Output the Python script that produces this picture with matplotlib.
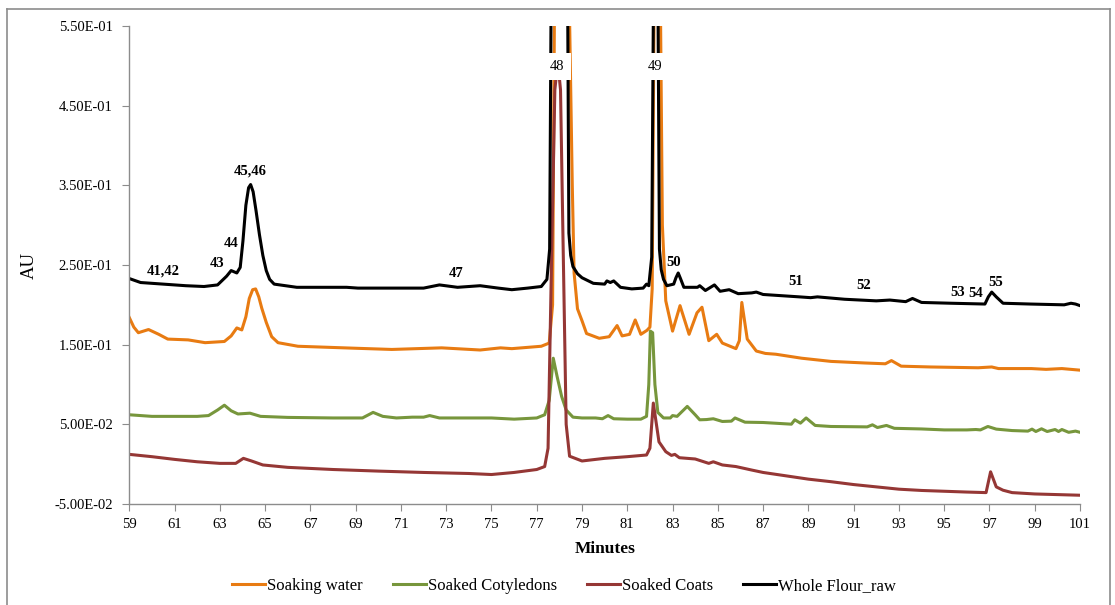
import matplotlib
matplotlib.use("Agg")
import matplotlib.pyplot as plt
from matplotlib.lines import Line2D
from matplotlib.ticker import FormatStrFormatter

plt.rcParams['font.family'] = ['Liberation Serif', 'DejaVu Serif']

# --- data (minutes, AU) ---
flour_t = [59.0, 59.5, 60.5, 61.5, 62.3, 62.9, 63.3, 63.5, 63.75, 63.9, 64.02, 64.15, 64.27,
           64.36, 64.47, 64.6, 64.75, 64.9, 65.05, 65.2, 65.4, 66.4, 68.6, 69.1, 70.5, 72.0,
           72.7, 73.5, 74.5, 75.3, 75.9, 76.6, 77.2, 77.45, 77.57, 77.63, 77.9, 78.2, 78.37,
           78.42, 78.5, 78.6, 78.8, 79.0, 79.5, 80.0, 80.1, 80.25, 80.4, 80.7, 81.2, 81.7,
           81.85, 81.95, 82.08, 82.15, 82.25, 82.36, 82.42, 82.5, 82.6, 82.75, 83.05, 83.15,
           83.25, 83.35, 83.5, 84.1, 84.2, 84.45, 84.85, 85.1, 85.5, 85.9, 86.5, 86.7, 87.0,
           87.8, 88.6, 89.1, 89.4, 90.6, 92.0, 92.6, 93.3, 93.6, 94.0, 95.3, 96.8, 96.95, 97.1,
           97.3, 97.6, 98.8, 100.3, 100.6, 100.8, 101.0]
flour_au = [0.233, 0.228, 0.226, 0.224, 0.223, 0.225, 0.236, 0.243, 0.240, 0.247, 0.280, 0.325,
            0.347, 0.351, 0.342, 0.318, 0.288, 0.262, 0.243, 0.232, 0.226, 0.222, 0.222, 0.221,
            0.221, 0.221, 0.225, 0.222, 0.224, 0.221, 0.219, 0.221, 0.223, 0.232, 0.270, 0.560,
            0.950, 0.950, 0.560, 0.290, 0.262, 0.248, 0.239, 0.234, 0.227, 0.226, 0.230, 0.228,
            0.230, 0.222, 0.220, 0.221, 0.226, 0.224, 0.260, 0.560, 0.900, 0.560, 0.270, 0.244,
            0.232, 0.224, 0.226, 0.234, 0.240, 0.233, 0.222, 0.222, 0.224, 0.218, 0.225, 0.217,
            0.219, 0.214, 0.215, 0.216, 0.213, 0.2115, 0.210, 0.209, 0.210, 0.207, 0.205, 0.206,
            0.204, 0.208, 0.203, 0.202, 0.201, 0.210, 0.216, 0.210, 0.202, 0.201, 0.200, 0.202,
            0.201, 0.199]

water_t = [59.0, 59.2, 59.4, 59.85, 60.3, 60.7, 61.6, 62.35, 63.2, 63.5, 63.75, 63.97, 64.15,
           64.3, 64.45, 64.58, 64.72, 64.85, 65.05, 65.29, 65.57, 66.45, 69.1, 70.6, 72.8, 74.5,
           75.4, 75.9, 77.2, 77.55, 77.7, 77.78, 78.1, 78.45, 78.57, 78.65, 78.8, 79.0, 79.2,
           79.76, 80.2, 80.55, 80.77, 81.1, 81.35, 81.6, 81.87, 82.0, 82.1, 82.18, 82.3, 82.47,
           82.55, 82.7, 83.0, 83.33, 83.73, 84.08, 84.3, 84.6, 84.95, 85.2, 85.8, 85.95, 86.06,
           86.3, 86.7, 87.1, 87.56, 88.7, 90.0, 91.5, 92.4, 92.67, 93.1, 94.4, 96.5, 97.1, 97.4,
           98.85, 99.5, 100.2, 101.0]
water_au = [0.184, 0.172, 0.165, 0.169, 0.163, 0.157, 0.156, 0.1525, 0.154, 0.161, 0.171,
            0.1685, 0.185, 0.208, 0.219, 0.220, 0.210, 0.196, 0.178, 0.160, 0.1525, 0.148,
            0.1454, 0.144, 0.146, 0.1433, 0.146, 0.145, 0.148, 0.152, 0.200, 0.560, 1.000,
            0.560, 0.350, 0.240, 0.195, 0.180, 0.164, 0.158, 0.160, 0.174, 0.161, 0.163, 0.181,
            0.163, 0.168, 0.172, 0.220, 0.560, 0.900, 0.560, 0.300, 0.205, 0.167, 0.199, 0.163,
            0.190, 0.197, 0.155, 0.163, 0.152, 0.145, 0.155, 0.203, 0.157, 0.142, 0.139, 0.138,
            0.133, 0.129, 0.127, 0.126, 0.130, 0.123, 0.122, 0.121, 0.122, 0.120, 0.120, 0.119,
            0.120, 0.118]

cotyl_t = [59.0, 59.5, 60.0, 62.0, 62.5, 62.9, 63.2, 63.5, 63.8, 64.33, 64.8, 66.0, 68.0, 69.3,
           69.77, 70.2, 70.8, 71.5, 72.0, 72.27, 72.7, 75.0, 76.0, 77.0, 77.35, 77.55, 77.73,
           77.9, 78.1, 78.3, 78.6, 79.0, 79.6, 79.9, 80.15, 80.4, 81.0, 81.6, 81.85, 81.95,
           82.02, 82.12, 82.22, 82.35, 82.6, 82.9, 83.0, 83.2, 83.65, 84.0, 84.2, 84.5, 84.8,
           85.2, 85.6, 85.76, 86.2, 87.0, 88.25, 88.4, 88.65, 88.9, 89.3, 90.0, 91.0, 91.6,
           91.83, 92.05, 92.45, 92.8, 94.0, 95.0, 96.0, 96.4, 96.6, 96.93, 97.3, 98.0, 98.7,
           98.88, 99.05, 99.3, 99.55, 99.9, 100.05, 100.2, 100.5, 100.8, 101.0]
cotyl_au = [0.062, 0.061, 0.060, 0.060, 0.061, 0.068, 0.074, 0.067, 0.063, 0.064, 0.060, 0.0587,
            0.058, 0.058, 0.065, 0.060, 0.058, 0.059, 0.059, 0.061, 0.058, 0.058, 0.0565, 0.058,
            0.062, 0.080, 0.133, 0.110, 0.085, 0.068, 0.059, 0.058, 0.058, 0.057, 0.061, 0.057,
            0.0565, 0.0565, 0.060, 0.100, 0.167, 0.165, 0.100, 0.065, 0.058, 0.058, 0.061, 0.060,
            0.0725, 0.062, 0.0557, 0.056, 0.057, 0.0536, 0.054, 0.058, 0.0527, 0.0523, 0.0502,
            0.0557, 0.0515, 0.058, 0.0486, 0.0473, 0.047, 0.0468, 0.0494, 0.046, 0.0486, 0.045,
            0.0442, 0.043, 0.043, 0.0435, 0.043, 0.0473, 0.044, 0.0422, 0.0415, 0.044, 0.041,
            0.0444, 0.041, 0.0435, 0.041, 0.0435, 0.040, 0.0415, 0.040]

coats_t = [59.0, 60.0, 61.0, 62.0, 63.0, 63.7, 64.04, 64.4, 64.9, 66.0, 68.0, 70.0, 72.0, 74.0,
           75.0, 76.0, 77.0, 77.35, 77.5, 77.65, 77.8, 77.93, 78.05, 78.15, 78.3, 78.45, 79.0,
           80.0, 81.0, 81.85, 82.0, 82.15, 82.4, 82.7, 82.95, 83.1, 83.3, 84.0, 84.6, 84.8,
           85.2, 85.8, 86.5, 87.0, 88.0, 89.0, 90.0, 91.0, 92.0, 93.0, 94.0, 95.0, 96.0, 96.85,
           97.05, 97.3, 97.6, 98.0, 99.0, 100.0, 101.0]
coats_au = [0.0123, 0.0094, 0.006, 0.003, 0.001, 0.001, 0.0073, 0.004, -0.001, -0.004, -0.0067,
            -0.0087, -0.0104, -0.0117, -0.013, -0.0104, -0.0067, -0.003, 0.020, 0.250, 0.470,
            0.505, 0.470, 0.300, 0.050, 0.010, 0.004, 0.0073, 0.0094, 0.0115, 0.020, 0.0767,
            0.028, 0.0157, 0.011, 0.0123, 0.0081, 0.0065, 0.001, 0.003, -0.001, -0.003, -0.0074,
            -0.0104, -0.0146, -0.0188, -0.022, -0.0256, -0.0285, -0.0314, -0.033, -0.034, -0.035,
            -0.0357, -0.0096, -0.0285, -0.0327, -0.0357, -0.0374, -0.0382, -0.039]

series_names = ['Soaking water', 'Soaked Cotyledons', 'Soaked Coats', 'Whole Flour_raw']
series_colors = ['#E87B12', '#77963C', '#953735', '#000000']

peak_labels = ['41,42', '43', '44', '45,46', '47', '48', '49', '50', '51', '52', '53', '54', '55']
peak_x = [60.52, 62.88, 63.5, 64.33, 73.45, 77.88, 82.24, 83.03, 88.43, 91.44, 95.6, 96.4, 97.27]
peak_y = [0.242, 0.252, 0.277, 0.368, 0.239, 0.499, 0.499, 0.253, 0.229, 0.224, 0.215, 0.214, 0.228]

fig = plt.figure(figsize=(11.15, 6.05), dpi=100)
ax = fig.add_axes([129.3 / 1115, 1 - 504 / 605, (1080 - 129.3) / 1115, (504 - 26) / 605])

traces = [(water_t, water_au), (cotyl_t, cotyl_au), (coats_t, coats_au), (flour_t, flour_au)]
for (t, au), name, col in zip(traces, series_names, series_colors):
    ax.plot(t, au, color=col, lw=2.2, label=name, solid_joinstyle='round')

for lab, x, y in zip(peak_labels, peak_x, peak_y):
    if lab in ('48', '49'):
        ax.text(x, y, lab, ha='center', va='center', fontsize=10.5, zorder=10,
                bbox=dict(boxstyle='square,pad=0.5', facecolor='white', edgecolor='none'))
    else:
        ax.text(x, y, lab, ha='center', va='center', fontsize=10.5, fontweight='bold', zorder=10)

ax.set_xlim(59, 101)
ax.set_ylim(-0.05, 0.55)
ax.set_xticks(range(59, 102, 2))
ax.set_yticks([-0.05, 0.05, 0.15, 0.25, 0.35, 0.45, 0.55])
ax.yaxis.set_major_formatter(FormatStrFormatter('%.2E'))
ax.tick_params(axis='both', direction='out', length=5, color='#8C8C8C', labelsize=10.5)
ax.tick_params(axis='x', pad=5)
ax.tick_params(axis='y', pad=7)
for s in ['top', 'right']:
    ax.spines[s].set_visible(False)
for s in ['left', 'bottom']:
    ax.spines[s].set_color('#8C8C8C')
    ax.spines[s].set_linewidth(1.0)

ax.set_xlabel('Minutes', fontsize=12.5, fontweight='bold', labelpad=7)
ax.set_ylabel('AU', fontsize=13.5, labelpad=12)

fig.legend(loc='center', bbox_to_anchor=(564 / 1115, 1 - 586 / 605), ncol=4, frameon=False,
           fontsize=12, handlelength=2.0, handletextpad=0.1, columnspacing=1.8)

# outer chart frame (open at the bottom)
frame_col = '#8C8C8C'
fig.add_artist(Line2D([7 / 1115, 7 / 1115], [0, 1 - 9 / 605], color=frame_col, lw=1.2))
fig.add_artist(Line2D([7 / 1115, 1110 / 1115], [1 - 9 / 605, 1 - 9 / 605], color=frame_col, lw=1.2))
fig.add_artist(Line2D([1110 / 1115, 1110 / 1115], [0, 1 - 9 / 605], color=frame_col, lw=1.2))

fig.savefig('out.png', dpi=100)
